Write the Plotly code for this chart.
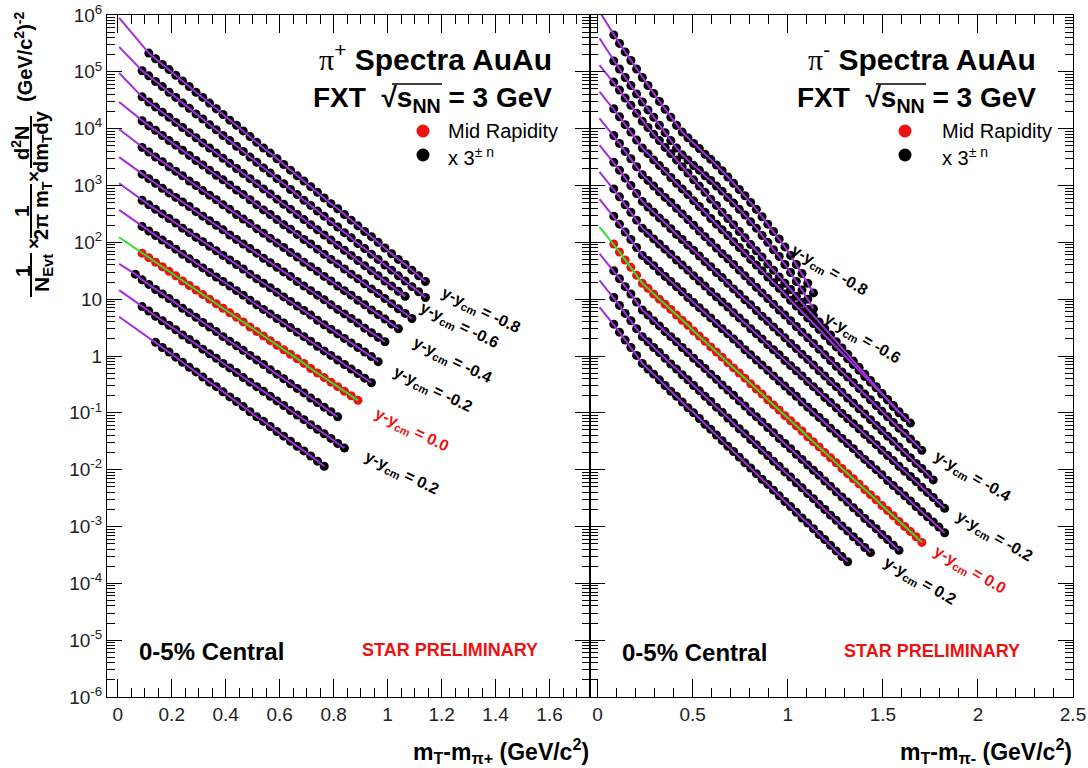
import plotly.graph_objects as go

# ---------------- data (log10 of plotted yield, already scaled by 3^(+-n)) ----------------
XB_PIP = [0.065, 0.09, 0.115, 0.14, 0.165, 0.19, 0.215, 0.24, 0.265, 0.29, 0.315, 0.34, 0.365,
          0.39, 0.415, 0.44, 0.465, 0.49, 0.515, 0.54, 0.565, 0.59, 0.615, 0.64, 0.665, 0.69,
          0.715, 0.74, 0.765, 0.79, 0.815, 0.84, 0.865, 0.89, 0.915, 0.94, 0.965, 0.99, 1.015,
          1.04, 1.065, 1.09, 1.115, 1.14]
PIP_FIT_X = 0.005
PIP_FIT0 = [5.95, 5.44, 4.98, 4.47, 3.99, 3.50, 3.04, 2.57, 2.09, 1.62, 1.16, 0.69]
PIP_FIRST = [2, 1, 1, 1, 1, 1, 1, 1, 1, 0, 1, 3]
PIP_LOG = [
    [5.33, 5.23, 5.13, 5.04, 4.94, 4.84, 4.74, 4.64, 4.55, 4.45, 4.35, 4.25, 4.15, 4.06, 3.96, 3.86,
     3.76, 3.66, 3.57, 3.47, 3.37, 3.27, 3.17, 3.08, 2.98, 2.88, 2.78, 2.68, 2.59, 2.49, 2.39, 2.29,
     2.19, 2.10, 2.00, 1.90, 1.80, 1.70, 1.61, 1.51, 1.41, 1.31],
    [5.02, 4.93, 4.83, 4.74, 4.64, 4.55, 4.45, 4.36, 4.26, 4.17, 4.07, 3.98, 3.88, 3.79, 3.69, 3.60,
     3.50, 3.41, 3.31, 3.22, 3.12, 3.03, 2.93, 2.84, 2.74, 2.65, 2.55, 2.46, 2.36, 2.27, 2.17, 2.08,
     1.98, 1.89, 1.79, 1.70, 1.60, 1.51, 1.41, 1.32, 1.22, 1.13, 1.03],
    [4.56, 4.47, 4.38, 4.29, 4.20, 4.11, 4.02, 3.93, 3.84, 3.75, 3.66, 3.57, 3.48, 3.39, 3.30, 3.21,
     3.12, 3.03, 2.94, 2.85, 2.76, 2.67, 2.58, 2.49, 2.40, 2.31, 2.22, 2.13, 2.04, 1.95, 1.86, 1.77,
     1.68, 1.59, 1.50, 1.41, 1.32, 1.23, 1.14, 1.05],
    [4.14, 4.05, 3.97, 3.88, 3.79, 3.71, 3.62, 3.53, 3.44, 3.36, 3.27, 3.18, 3.10, 3.01, 2.92, 2.84,
     2.75, 2.66, 2.57, 2.49, 2.40, 2.31, 2.23, 2.14, 2.05, 1.97, 1.88, 1.79, 1.70, 1.62, 1.53, 1.44,
     1.36, 1.27, 1.18, 1.10, 1.01, 0.92, 0.83, 0.75, 0.66],
    [3.67, 3.59, 3.50, 3.42, 3.33, 3.25, 3.17, 3.08, 3.00, 2.91, 2.83, 2.75, 2.66, 2.58, 2.49, 2.41,
     2.33, 2.24, 2.16, 2.07, 1.99, 1.91, 1.82, 1.74, 1.65, 1.57, 1.49, 1.40, 1.32, 1.23, 1.15, 1.07,
     0.98, 0.90, 0.81, 0.73, 0.65, 0.56, 0.48],
    [3.20, 3.12, 3.04, 2.95, 2.87, 2.79, 2.71, 2.63, 2.54, 2.46, 2.38, 2.30, 2.22, 2.13, 2.05, 1.97,
     1.89, 1.81, 1.72, 1.64, 1.56, 1.48, 1.40, 1.31, 1.23, 1.15, 1.07, 0.99, 0.90, 0.82, 0.74, 0.66,
     0.58, 0.49, 0.41, 0.33, 0.25],
    [2.74, 2.66, 2.58, 2.50, 2.42, 2.34, 2.25, 2.17, 2.09, 2.01, 1.93, 1.85, 1.77, 1.69, 1.61, 1.53,
     1.44, 1.36, 1.28, 1.20, 1.12, 1.04, 0.96, 0.88, 0.80, 0.72, 0.63, 0.55, 0.47, 0.39, 0.31, 0.23,
     0.15, 0.07, -0.01, -0.10],
    [2.28, 2.20, 2.12, 2.04, 1.96, 1.88, 1.79, 1.71, 1.63, 1.55, 1.47, 1.39, 1.31, 1.23, 1.15, 1.07,
     0.98, 0.90, 0.82, 0.74, 0.66, 0.58, 0.50, 0.42, 0.34, 0.26, 0.17, 0.09, 0.01, -0.07, -0.15,
     -0.23, -0.31, -0.39, -0.47],
    [1.81, 1.73, 1.65, 1.57, 1.49, 1.41, 1.32, 1.24, 1.16, 1.08, 1.00, 0.92, 0.84, 0.76, 0.68, 0.60,
     0.51, 0.43, 0.35, 0.27, 0.19, 0.11, 0.03, -0.05, -0.13, -0.22, -0.30, -0.38, -0.46, -0.54,
     -0.62, -0.70, -0.78],
    [1.44, 1.34, 1.26, 1.17, 1.09, 1.01, 0.93, 0.84, 0.76, 0.68, 0.59, 0.51, 0.43, 0.34, 0.26, 0.18,
     0.10, 0.01, -0.07, -0.15, -0.24, -0.32, -0.40, -0.49, -0.57, -0.65, -0.74, -0.82, -0.90, -0.98,
     -1.07],
    [0.87, 0.79, 0.70, 0.62, 0.54, 0.46, 0.37, 0.29, 0.21, 0.12, 0.04, -0.04, -0.13, -0.21, -0.29,
     -0.38, -0.46, -0.54, -0.62, -0.71, -0.79, -0.87, -0.96, -1.04, -1.12, -1.21, -1.29, -1.37,
     -1.45, -1.54, -1.62],
    [0.24, 0.15, 0.07, -0.02, -0.11, -0.20, -0.28, -0.37, -0.46, -0.54, -0.63, -0.72, -0.80, -0.89,
     -0.98, -1.07, -1.15, -1.24, -1.33, -1.41, -1.50, -1.59, -1.67, -1.76, -1.85, -1.94],
]

XB_PIM = [0.085, 0.115, 0.145, 0.175, 0.205, 0.235, 0.265, 0.295, 0.325, 0.355, 0.385, 0.415,
          0.445, 0.475, 0.505, 0.535, 0.565, 0.595, 0.625, 0.655, 0.685, 0.715, 0.745, 0.775,
          0.805, 0.835, 0.865, 0.895, 0.925, 0.955, 0.985, 1.015, 1.045, 1.075, 1.105, 1.135,
          1.165, 1.195, 1.225, 1.255, 1.285, 1.315, 1.345, 1.375, 1.405, 1.435, 1.465, 1.495,
          1.525, 1.555, 1.585, 1.615, 1.645, 1.675, 1.705, 1.735, 1.765, 1.795, 1.825]
PIM_FIT_X = 0.01
PIM_FIT0 = [6.06, 5.59, 5.12, 4.65, 4.18, 3.71, 3.24, 2.76, 2.27, 1.80, 1.33, 0.86]
PIM_FIRST = [0] * 12
PIM_LOG = [
    [5.65, 5.50, 5.35, 5.20, 5.05, 4.90, 4.76, 4.62, 4.48, 4.34, 4.20, 4.06, 3.94, 3.84, 3.74, 3.65,
     3.55, 3.46, 3.36, 3.26, 3.15, 3.04, 2.93, 2.82, 2.70, 2.58, 2.45, 2.32, 2.19, 2.06, 1.92, 1.77,
     1.61, 1.45, 1.28, 1.11],
    [5.19, 5.05, 4.90, 4.76, 4.61, 4.47, 4.33, 4.20, 4.06, 3.93, 3.79, 3.66, 3.54, 3.45, 3.35, 3.27,
     3.17, 3.09, 2.99, 2.90, 2.79, 2.69, 2.58, 2.48, 2.36, 2.25, 2.12, 2.00, 1.87, 1.75, 1.61, 1.47,
     1.31, 1.16, 1.00, 0.83],
    [4.82, 4.68, 4.54, 4.41, 4.27, 4.13, 4.02, 3.90, 3.79, 3.67, 3.56, 3.45, 3.33, 3.22, 3.10, 2.99,
     2.88, 2.76, 2.65, 2.53, 2.42, 2.31, 2.19, 2.08, 1.96, 1.85, 1.74, 1.62, 1.51, 1.39, 1.28, 1.17,
     1.05, 0.94, 0.82, 0.71, 0.60, 0.48, 0.37, 0.25, 0.14, 0.03, -0.09, -0.20, -0.32, -0.43, -0.54,
     -0.66, -0.77, -0.89, -1.00],
    [4.35, 4.21, 4.07, 3.94, 3.80, 3.66, 3.56, 3.45, 3.35, 3.25, 3.14, 3.04, 2.94, 2.84, 2.73, 2.63,
     2.53, 2.42, 2.32, 2.22, 2.12, 2.01, 1.91, 1.81, 1.70, 1.60, 1.50, 1.39, 1.29, 1.19, 1.09, 0.98,
     0.88, 0.78, 0.67, 0.57, 0.47, 0.36, 0.26, 0.16, 0.06, -0.05, -0.15, -0.25, -0.36, -0.46,
     -0.56, -0.67, -0.77, -0.87, -0.98, -1.08, -1.18],
    [3.88, 3.74, 3.60, 3.47, 3.33, 3.19, 3.09, 2.99, 2.89, 2.79, 2.70, 2.60, 2.50, 2.40, 2.30, 2.20,
     2.10, 2.00, 1.90, 1.80, 1.71, 1.61, 1.51, 1.41, 1.31, 1.21, 1.11, 1.01, 0.91, 0.81, 0.72, 0.62,
     0.52, 0.42, 0.32, 0.22, 0.12, 0.02, -0.08, -0.18, -0.28, -0.37, -0.47, -0.57, -0.67, -0.77,
     -0.87, -0.97, -1.07, -1.17, -1.27, -1.36, -1.46, -1.56, -1.66],
    [3.41, 3.27, 3.13, 3.00, 2.86, 2.72, 2.62, 2.53, 2.43, 2.34, 2.24, 2.14, 2.05, 1.95, 1.86, 1.76,
     1.66, 1.57, 1.47, 1.38, 1.28, 1.18, 1.09, 0.99, 0.90, 0.80, 0.70, 0.61, 0.51, 0.42, 0.32, 0.22,
     0.13, 0.03, -0.06, -0.16, -0.26, -0.35, -0.45, -0.54, -0.64, -0.74, -0.83, -0.93, -1.02,
     -1.12, -1.22, -1.31, -1.41, -1.50, -1.60, -1.70, -1.79, -1.89, -1.98, -2.08, -2.18],
    [2.94, 2.80, 2.66, 2.53, 2.39, 2.25, 2.16, 2.06, 1.97, 1.88, 1.79, 1.69, 1.60, 1.51, 1.41, 1.32,
     1.23, 1.13, 1.04, 0.95, 0.86, 0.76, 0.67, 0.58, 0.48, 0.39, 0.30, 0.20, 0.11, 0.02, -0.08,
     -0.17, -0.26, -0.35, -0.45, -0.54, -0.63, -0.73, -0.82, -0.91, -1.01, -1.10, -1.19, -1.28,
     -1.38, -1.47, -1.56, -1.66, -1.75, -1.84, -1.94, -2.03, -2.12, -2.21, -2.31, -2.40, -2.49,
     -2.59, -2.68],
    [2.46, 2.32, 2.18, 2.05, 1.91, 1.77, 1.68, 1.59, 1.49, 1.40, 1.31, 1.22, 1.13, 1.03, 0.94, 0.85,
     0.76, 0.67, 0.57, 0.48, 0.39, 0.30, 0.21, 0.11, 0.02, -0.07, -0.16, -0.25, -0.35, -0.44,
     -0.53, -0.62, -0.71, -0.81, -0.90, -0.99, -1.08, -1.17, -1.27, -1.36, -1.45, -1.54, -1.63,
     -1.73, -1.82, -1.91, -2.00, -2.09, -2.19, -2.28, -2.37, -2.46, -2.55, -2.65, -2.74, -2.83,
     -2.92, -3.01, -3.11],
    [1.97, 1.83, 1.69, 1.56, 1.42, 1.28, 1.19, 1.09, 1.00, 0.91, 0.82, 0.72, 0.63, 0.54, 0.44, 0.35,
     0.26, 0.16, 0.07, -0.02, -0.12, -0.21, -0.30, -0.39, -0.49, -0.58, -0.67, -0.77, -0.86,
     -0.95, -1.05, -1.14, -1.23, -1.32, -1.42, -1.51, -1.60, -1.70, -1.79, -1.88, -1.98, -2.07,
     -2.16, -2.25, -2.35, -2.44, -2.53, -2.63, -2.72, -2.81, -2.91, -3.00, -3.09, -3.18, -3.28],
    [1.50, 1.36, 1.22, 1.09, 0.95, 0.81, 0.72, 0.62, 0.53, 0.43, 0.34, 0.25, 0.15, 0.06, -0.04,
     -0.13, -0.22, -0.32, -0.41, -0.51, -0.60, -0.69, -0.79, -0.88, -0.98, -1.07, -1.16, -1.26,
     -1.35, -1.45, -1.54, -1.63, -1.73, -1.82, -1.92, -2.01, -2.10, -2.20, -2.29, -2.39, -2.48,
     -2.57, -2.67, -2.76, -2.86, -2.95, -3.04, -3.14, -3.23, -3.33, -3.42],
    [1.03, 0.89, 0.75, 0.62, 0.48, 0.34, 0.25, 0.15, 0.06, -0.04, -0.14, -0.23, -0.33, -0.42,
     -0.52, -0.61, -0.71, -0.80, -0.90, -0.99, -1.09, -1.18, -1.28, -1.37, -1.47, -1.56, -1.66,
     -1.75, -1.85, -1.94, -2.04, -2.13, -2.23, -2.32, -2.42, -2.51, -2.61, -2.70, -2.80, -2.89,
     -2.99, -3.08, -3.18, -3.27, -3.37, -3.46],
    [0.56, 0.42, 0.28, 0.15, 0.01, -0.13, -0.23, -0.32, -0.42, -0.52, -0.62, -0.71, -0.81, -0.91,
     -1.00, -1.10, -1.20, -1.29, -1.39, -1.49, -1.59, -1.68, -1.78, -1.88, -1.97, -2.07, -2.17,
     -2.26, -2.36, -2.46, -2.56, -2.65, -2.75, -2.85, -2.94, -3.04, -3.14, -3.23, -3.33, -3.43,
     -3.53, -3.62],
]
MID = 8  # index of the mid-rapidity spectrum

PIP_LABELS = [("-0.8", 480, 311), ("-0.6", 459, 325), ("-0.4", 452, 360), ("-0.2", 432, 390),
              ("0.0", 412, 430), ("0.2", 402, 473)]
PIM_LABELS = [("-0.8", 829, 270), ("-0.6", 862, 338), ("-0.4", 972, 476), ("-0.2", 994, 536),
              ("0.0", 970, 570), ("0.2", 920, 581)]

X1_TICKS = [0, 0.2, 0.4, 0.6, 0.8, 1, 1.2, 1.4, 1.6]
X1_TEXT = ["0", "0.2", "0.4", "0.6", "0.8", "1", "1.2", "1.4", "1.6"]
X2_TICKS = [0, 0.5, 1, 1.5, 2, 2.5]
X2_TEXT = ["0", "0.5", "1", "1.5", "2", "2.5"]
Y_EXP = list(range(-6, 7))

# ---------------- style ----------------
W, H = 1088, 768
ML, MR, MT, MB = 107, 15, 15, 71
PW, PH = W - ML - MR, H - MT - MB
FONT = "Liberation Sans, Arial, sans-serif"
PURPLE = "#a02ee0"
GREEN = "#2ee02e"
RED = "#ee1111"


def px(x):
    return (x - ML) / PW


def py(y):
    return (H - MB - y) / PH


fig = go.Figure()


def add_panel(xb, first, logs, fit_x, fit0, xa, ya):
    for k, vals in enumerate(logs):
        xs = xb[first[k]:first[k] + len(vals)]
        ys = [10 ** v for v in vals]
        fig.add_trace(go.Scatter(x=xs, y=ys, mode="markers", xaxis=xa, yaxis=ya,
                                 marker=dict(size=9, color=RED if k == MID else "black",
                                             line=dict(width=0)),
                                 showlegend=False, hoverinfo="skip"))
    for k, vals in enumerate(logs):
        xs = [fit_x] + xb[first[k]:first[k] + len(vals)]
        ys = [10 ** fit0[k]] + [10 ** v for v in vals]
        fig.add_trace(go.Scatter(x=xs, y=ys, mode="lines", xaxis=xa, yaxis=ya,
                                 line=dict(color=GREEN if k == MID else PURPLE, width=2),
                                 showlegend=False, hoverinfo="skip"))


add_panel(XB_PIP, PIP_FIRST, PIP_LOG, PIP_FIT_X, PIP_FIT0, "x", "y")
add_panel(XB_PIM, PIM_FIRST, PIM_LOG, PIM_FIT_X, PIM_FIT0, "x2", "y2")

minor_log = [m * 10.0 ** e for e in range(-6, 6) for m in range(2, 10)]
yticktext = []
for e in Y_EXP:
    if e == 0:
        yticktext.append("1")
    elif e == 1:
        yticktext.append("10")
    else:
        yticktext.append("10<sup>%d</sup>" % e)

common_x = dict(ticks="inside", ticklen=18, tickwidth=1, tickcolor="black", showline=True,
                linecolor="black", linewidth=1, mirror="allticks", showgrid=False, zeroline=False,
                automargin=False, tickfont=dict(family=FONT, size=19, color="#222"))
common_y = dict(type="log", range=[-6, 6], ticks="inside", ticklen=15, tickwidth=1, tickcolor="black",
                showline=True, linecolor="black", linewidth=1, mirror="allticks", showgrid=False,
                zeroline=False, automargin=False, tickmode="array",
                tickvals=[10.0 ** e for e in Y_EXP],
                minor=dict(ticks="inside", ticklen=8, tickcolor="black", tickmode="array",
                           tickvals=minor_log, showgrid=False),
                tickfont=dict(family=FONT, size=19, color="#222"))

fig.update_layout(
    template="none",
    width=W, height=H, margin=dict(l=ML, r=MR, t=MT, b=MB, autoexpand=False),
    paper_bgcolor="white", plot_bgcolor="white", showlegend=False,
    xaxis=dict(domain=[0, 0.5], range=[-0.04, 1.75], tickmode="array", tickvals=X1_TICKS,
               ticktext=X1_TEXT, minor=dict(ticks="inside", ticklen=9, dtick=0.05, tick0=0,
                                            tickcolor="black"), anchor="y", **common_x),
    xaxis2=dict(domain=[0.5, 1], range=[-0.04, 2.5], tickmode="array", tickvals=X2_TICKS,
                ticktext=X2_TEXT, minor=dict(ticks="inside", ticklen=9, dtick=0.1, tick0=0,
                                             tickcolor="black"), anchor="y2", **common_x),
    yaxis=dict(domain=[0, 1], anchor="x", ticktext=yticktext, **common_y),
    yaxis2=dict(domain=[0, 1], anchor="x2", showticklabels=False, **common_y),
)

ann = []
shapes = []


def text(t, x, y, size, color="black", xanchor="center", angle=0, yanchor="middle"):
    ann.append(dict(text=t, x=px(x), y=py(y), xref="paper", yref="paper", showarrow=False,
                    xanchor=xanchor, yanchor=yanchor, textangle=angle,
                    font=dict(family=FONT, size=size, color=color)))


def hline(x0, x1, y, w=2):
    shapes.append(dict(type="line", xref="paper", yref="paper", x0=px(x0), x1=px(x1),
                       y0=py(y), y1=py(y), line=dict(color="black", width=w)))


# headers
PI = "<span style='font-family:Liberation Serif;font-weight:normal'>π</span>"
for xr, sign in ((554, "+"), (1038, "-")):
    text(PI + "<sup>" + sign + "</sup> <b>Spectra AuAu</b>", xr, 57, 30, xanchor="right")
    text("<b>FXT  √s<sub>NN</sub> = 3 GeV</b>", xr, 99, 28, xanchor="right")
    hline(xr - 162, xr - 112, 84, 1.5)

# legends
for cx, tx in ((423, 446), (905, 940)):
    for cy, col in ((131, RED), (155, "black")):
        shapes.append(dict(type="circle", xref="paper", yref="paper", x0=px(cx - 6.5),
                           x1=px(cx + 6.5), y0=py(cy + 6.5), y1=py(cy - 6.5), fillcolor=col,
                           line=dict(width=0)))
    text("Mid Rapidity", tx, 131, 20, xanchor="left")
    text("x 3<sup>± n</sup>", tx, 156, 20, xanchor="left")

# bottom texts
text("<b>0-5% Central</b>", 137, 651, 24, xanchor="left")
text("<b>0-5% Central</b>", 620, 652, 24, xanchor="left")
text("<b>STAR PRELIMINARY</b>", 450, 650, 18, color=RED)
text("<b>STAR PRELIMINARY</b>", 932, 651, 18, color=RED)

# axis titles
text("<b>m<sub>T</sub>-m<sub>π+</sub> (GeV/c<sup>2</sup>)</b>", 591, 751, 23, xanchor="right")
text("<b>m<sub>T</sub>-m<sub>π-</sub> (GeV/c<sup>2</sup>)</b>", 1074, 751, 23, xanchor="right")

# y title (stacked fractions, rotated)
text("<b>1</b>", 22, 271, 21, angle=-90)
text("<b>N<sub>Evt</sub></b>", 43, 273, 21, angle=-90)
text("<b>×</b>", 33, 244, 19, angle=-90)
text("<b>1</b>", 22, 211, 21, angle=-90)
text("<b>2π m<sub>T</sub></b>", 43, 211, 20, angle=-90)
text("<b>×</b>", 33, 177, 19, angle=-90)
text("<b>d<sup>2</sup>N</b>", 20, 143, 20, angle=-90)
text("<b>dm<sub>T</sub>dy</b>", 43, 142, 20, angle=-90)
text("<b>(GeV/c<sup>2</sup>)<sup>-2</sup></b>", 24, 57, 20, angle=-90)
for y0, y1 in ((253, 297), (184, 238), (116, 168)):
    shapes.append(dict(type="line", xref="paper", yref="paper", x0=px(31), x1=px(31),
                       y0=py(y0), y1=py(y1), line=dict(color="black", width=2)))

# rapidity labels
for lab, x, y in PIP_LABELS:
    c = RED if lab == "0.0" else "black"
    text("<b>y-y<sub>cm</sub> = %s</b>" % lab, x, y, 16, color=c, angle=26)
for lab, x, y in PIM_LABELS:
    c = RED if lab == "0.0" else "black"
    text("<b>y-y<sub>cm</sub> = %s</b>" % lab, x, y, 16, color=c, angle=30)

fig.update_layout(annotations=ann, shapes=shapes)
fig.write_html("out.html")
